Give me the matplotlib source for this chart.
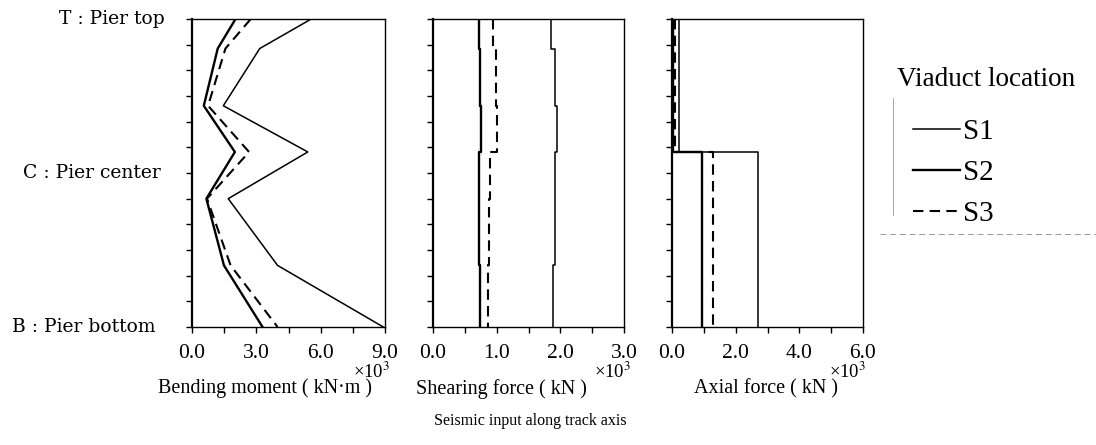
import numpy as np
import matplotlib.pyplot as plt
from matplotlib.lines import Line2D

plt.rcParams['font.family'] = ['Liberation Serif', 'DejaVu Serif']
plt.rcParams['mathtext.fontset'] = 'stix'

# pier node heights (0 = bottom, 12 = top)
nodes = [12, 10.85, 8.62, 6.82, 5.0, 2.4, 0]

# bending moment at nodes (x10^3 kN.m)
bm_s1 = [5.56, 3.16, 1.46, 5.40, 1.69, 3.99, 8.92]
bm_s2 = [2.03, 1.20, 0.55, 2.00, 0.67, 1.49, 3.29]
bm_s3 = [2.74, 1.56, 0.75, 2.66, 0.70, 1.80, 3.99]

# shearing force per segment (x10^3 kN)
sf_s1 = [1.86, 1.91, 1.95, 1.91, 1.92, 1.89]
sf_s2 = [0.72, 0.74, 0.76, 0.73, 0.73, 0.74]
sf_s3 = [0.95, 0.99, 1.01, 0.90, 0.88, 0.86]

# axial force per segment (x10^3 kN)
ax_nodes = [12, 6.82, 0]
af_s1 = [0.22, 2.70]
af_s2 = [0.03, 0.94]
af_s3 = [0.08, 1.29]

pier_labels = ['B : Pier bottom', 'C : Pier center', 'T : Pier top']
pier_pos = [0, 6, 12]

styles = {
    'S1': dict(color='black', lw=1.1, ls='-'),
    'S2': dict(color='black', lw=1.7, ls='-'),
    'S3': dict(color='black', lw=1.5, ls=(0, (5, 3))),
}


def steps(vals, ys):
    # vertical step line: constant value on each segment
    x = np.repeat(vals, 2)
    y = np.concatenate([[ys[0]], np.repeat(ys[1:-1], 2), [ys[-1]]])
    return x, y


fig = plt.figure(figsize=(10.96, 4.45), dpi=100)
W, H = 1096, 445
ax1 = fig.add_axes([192 / W, 1 - 327 / H, 193 / W, 308 / H])
ax2 = fig.add_axes([433 / W, 1 - 327 / H, 191 / W, 308 / H])
ax3 = fig.add_axes([672 / W, 1 - 327 / H, 191 / W, 308 / H])

lines = []
for vals, key in [(bm_s1, 'S1'), (bm_s2, 'S2'), (bm_s3, 'S3')]:
    l, = ax1.plot(vals, nodes, label=key, **styles[key])
    lines.append(l)

for vals, key in [(sf_s1, 'S1'), (sf_s2, 'S2'), (sf_s3, 'S3')]:
    x, y = steps(vals, nodes)
    ax2.plot(x, y, **styles[key])

for vals, key in [(af_s1, 'S1'), (af_s2, 'S2'), (af_s3, 'S3')]:
    x, y = steps(vals, ax_nodes)
    ax3.plot(x, y, **styles[key])

panels = [
    (ax1, 9.0, [0, 3, 6, 9], np.arange(0, 9.1, 1.5), 'Bending moment ( kN·m )', 0.38, 0.93),
    (ax2, 3.0, [0, 1, 2, 3], np.arange(0, 3.01, 0.5), 'Shearing force ( kN )', 0.36, 0.94),
    (ax3, 6.0, [0, 2, 4, 6], np.arange(0, 6.1, 1.0), 'Axial force ( kN )', 0.49, 0.92),
]
for ax, xmax, major, minor, label, lx, ex in panels:
    ax.set_xlim(0, xmax)
    ax.set_ylim(0, 12)
    ax.set_xticks(major)
    ax.set_xticklabels([f'{v:.1f}' for v in major])
    ax.set_xticks(minor, minor=True)
    ax.set_yticks(np.arange(0, 13, 1))
    ax.set_yticklabels([])
    ax.tick_params(axis='x', which='both', direction='out', length=4, width=1.0,
                   labelsize=15.5, pad=8)
    ax.tick_params(axis='y', direction='out', length=4, width=1.0)
    for side in ['top', 'right', 'bottom']:
        ax.spines[side].set_linewidth(1.0)
    ax.spines['left'].set_linewidth(1.6)
    ax.text(lx, -0.2, label, transform=ax.transAxes, ha='center', va='center',
            fontsize=14.5)
    ax.text(ex, -0.147, r'×10$^3$', transform=ax.transAxes, ha='center',
            va='center', fontsize=13.5)

# right edges of the pier labels differ slightly in the original
pier_x = [-0.19, -0.16, -0.14]
for lab, yv, px in zip(pier_labels, pier_pos, pier_x):
    ax1.text(px, yv, lab, transform=ax1.get_yaxis_transform(), ha='right',
             va='center', fontsize=13.5, family='DejaVu Serif')

fig.text(530 / W, 1 - 421 / H, 'Seismic input along track axis', ha='center',
         va='center', fontsize=11.5)

fig.text(897 / W, 1 - 80 / H, 'Viaduct location', ha='left', va='center',
         fontsize=19.5)
fig.legend(handles=lines, labels=['S1', 'S2', 'S3'],
           loc='upper left', bbox_to_anchor=(913 / W, 1 - 119 / H),
           frameon=False, fontsize=21, handlelength=1.62, borderpad=0,
           borderaxespad=0, handletextpad=0.08, labelspacing=0.5)

# faint scan frame lines around the legend
fig.add_artist(Line2D([893 / W, 893 / W], [1 - 98 / H, 1 - 215 / H], color='0.6', lw=0.6))
fig.add_artist(Line2D([880 / W, 1096 / W], [1 - 234 / H, 1 - 234 / H], color='0.6',
                      lw=0.7, ls=(0, (6, 4))))

fig.savefig('out.png', dpi=100)
